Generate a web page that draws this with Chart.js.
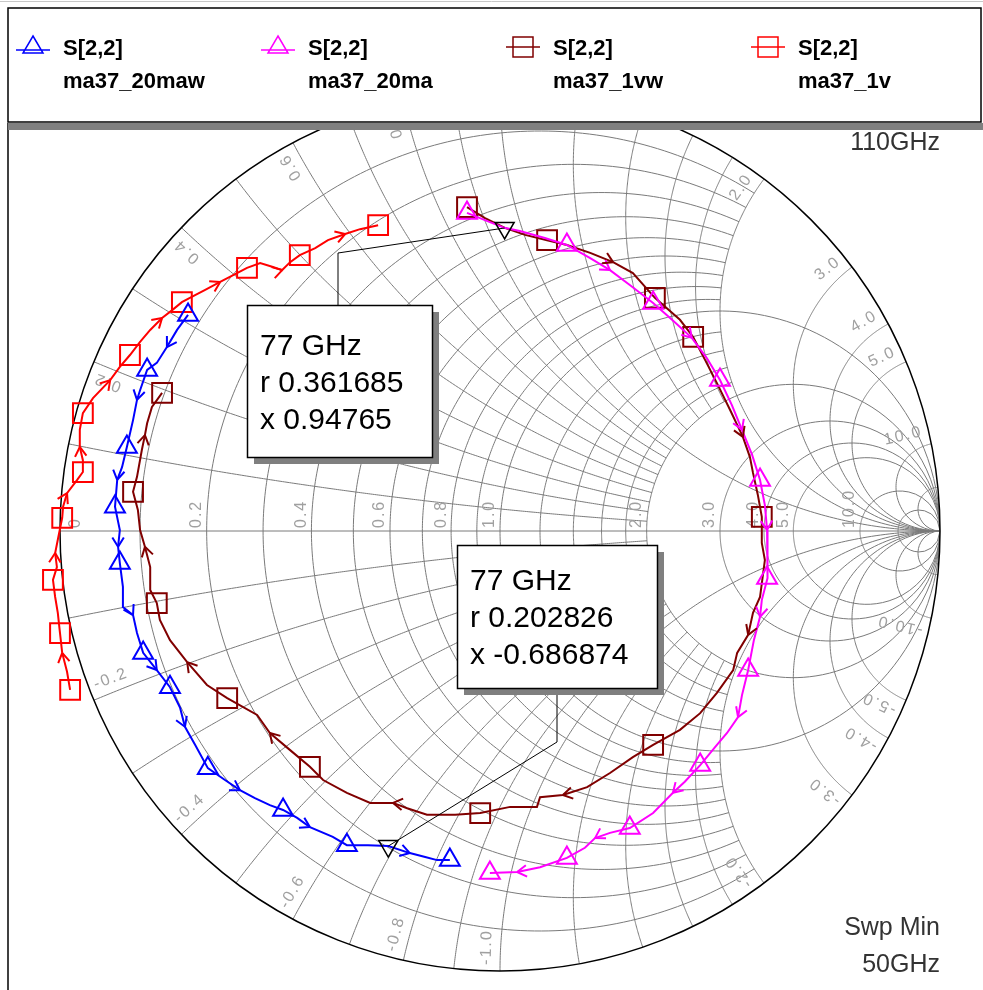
<!DOCTYPE html>
<html>
<head>
<meta charset="utf-8">
<script src="https://cdn.jsdelivr.net/npm/chart.js@4/dist/chart.umd.min.js"></script>
<style>
  html, body { margin: 0; padding: 0; background: #fff; overflow: hidden; }
  #wrap { width: 983px; height: 990px; position: relative; }
  canvas { display: block; }
</style>
</head>
<body>
<div id="wrap"><canvas id="smith" width="983" height="990"></canvas></div>
<script>
// ---- S[2,2] sweeps, 50 GHz .. 110 GHz, reflection coefficient (real / imaginary) ----
const paramName = 'S[2,2]';
const traceNames = ['ma37_20maw', 'ma37_20ma', 'ma37_1vw', 'ma37_1v'];

const re_20maw = [-0.709,-0.734,-0.757,-0.780,-0.802,-0.818,-0.825,-0.834,-0.848,-0.859,-0.870,-0.875,-0.864,-0.868,-0.864,-0.857,-0.857,-0.834,-0.825,-0.811,-0.780,-0.750,-0.727,-0.716,-0.693,-0.664,-0.625,-0.591,-0.557,-0.523,-0.493,-0.461,-0.432,-0.380,-0.348,-0.300,-0.254,-0.205,-0.170,-0.143,-0.114];
const im_20maw = [0.491,0.457,0.418,0.382,0.366,0.320,0.298,0.252,0.191,0.145,0.116,0.055,0.002,-0.036,-0.073,-0.127,-0.173,-0.191,-0.232,-0.277,-0.316,-0.355,-0.402,-0.445,-0.486,-0.539,-0.566,-0.589,-0.607,-0.623,-0.634,-0.652,-0.673,-0.695,-0.714,-0.714,-0.716,-0.732,-0.741,-0.748,-0.748];

const re_20ma = [-0.075,-0.023,0.010,0.045,0.102,0.152,0.205,0.250,0.295,0.348,0.391,0.436,0.470,0.500,0.527,0.550,0.573,0.591,0.602,0.607,0.609,0.607,0.595,0.591,0.577,0.564,0.550,0.541,0.516,0.493,0.455,0.420,0.393,0.348,0.295,0.250,0.216,0.193,0.152,0.091,0.039,-0.023];
const im_20ma = [0.723,0.702,0.689,0.682,0.666,0.650,0.620,0.593,0.559,0.518,0.480,0.439,0.393,0.343,0.286,0.230,0.173,0.116,0.059,0.002,-0.055,-0.107,-0.157,-0.195,-0.248,-0.316,-0.373,-0.423,-0.459,-0.486,-0.532,-0.570,-0.595,-0.641,-0.675,-0.686,-0.698,-0.720,-0.743,-0.764,-0.775,-0.777];

const re_1vw = [-0.075,-0.034,0.011,0.057,0.107,0.152,0.205,0.257,0.302,0.352,0.409,0.439,0.466,0.493,0.523,0.552,0.568,0.575,0.586,0.595,0.595,0.602,0.591,0.575,0.564,0.539,0.530,0.493,0.455,0.409,0.348,0.302,0.250,0.198,0.143,0.091,0.084,0.023,-0.045,-0.102,-0.166,-0.211,-0.243,-0.295,-0.348,-0.402,-0.432,-0.477,-0.523,-0.552,-0.620,-0.666,-0.711,-0.750,-0.773,-0.780,-0.795,-0.795,-0.807,-0.818,-0.823,-0.834,-0.825,-0.814,-0.807,-0.802,-0.791,-0.768];
const im_1vw = [0.736,0.711,0.689,0.673,0.661,0.650,0.632,0.611,0.586,0.530,0.480,0.441,0.389,0.336,0.275,0.214,0.168,0.132,0.082,0.032,-0.027,-0.066,-0.150,-0.186,-0.236,-0.277,-0.316,-0.368,-0.414,-0.452,-0.486,-0.514,-0.550,-0.582,-0.600,-0.605,-0.627,-0.627,-0.641,-0.645,-0.645,-0.630,-0.618,-0.618,-0.595,-0.566,-0.536,-0.498,-0.459,-0.418,-0.380,-0.350,-0.298,-0.248,-0.202,-0.164,-0.134,-0.082,-0.036,0.002,0.048,0.089,0.123,0.184,0.218,0.245,0.282,0.314];

const re_1v = [-0.977,-0.984,-0.995,-1.000,-1.005,-1.011,-1.016,-1.007,-1.011,-1.005,-0.995,-0.993,-0.984,-0.961,-0.948,-0.948,-0.955,-0.955,-0.948,-0.925,-0.886,-0.864,-0.841,-0.818,-0.795,-0.768,-0.745,-0.723,-0.693,-0.670,-0.636,-0.602,-0.575,-0.545,-0.516,-0.495,-0.477,-0.455,-0.420,-0.391,-0.352,-0.318,-0.277];
const im_1v = [-0.361,-0.320,-0.277,-0.232,-0.186,-0.150,-0.111,-0.082,-0.050,-0.020,0.030,0.055,0.086,0.116,0.134,0.161,0.191,0.230,0.268,0.302,0.343,0.373,0.400,0.430,0.457,0.484,0.502,0.520,0.536,0.548,0.566,0.584,0.598,0.609,0.600,0.593,0.611,0.627,0.643,0.661,0.675,0.686,0.695];

// sweep points carrying a trace marker symbol
const symIdx_20maw = [0,4,8,11,14,19,21,25,30,34,40];
const symIdx_20ma  = [0,5,9,13,17,21,25,30,34,38,41];
const symIdx_1vw   = [0,4,9,11,19,30,38,46,50,55,61,67];
const symIdx_1v    = [0,3,6,10,14,18,22,27,32,37,42];

// sweep points carrying a direction arrow
const arrIdx_20maw = [2,6,10,13,17,20,23,27,32,37];
const arrIdx_20ma  = [7,11,15,19,23,27,32,36,40];
const arrIdx_1vw   = [7,15,24,34,42,48,52,58,64];
const arrIdx_1v    = [2,8,12,16,20,25,30,35,40];

// marker readouts (normalised impedance)
const mkFreq = ['77 GHz', '77 GHz'];
const mkR = [0.361685, 0.202826];
const mkX = [0.94765, -0.686874];

// sweep range
const sweepStop = '110GHz';
const sweepStart = '50GHz';

// ---- Smith grid: constant-r circles and constant-x arcs with their extent ----
const gridR      = [0.1,0.2,0.3,0.4,0.5,0.6,0.7,0.8,0.9,1.0,1.2,1.4,1.6,1.8,2.0,3.0,4.0,5.0,10.0,20.0];
const gridRXmax  = [2,2,2,2,2,2,2,2,2,Infinity,2,2,2,2,Infinity,Infinity,Infinity,Infinity,Infinity,Infinity];
const gridX      = [0.1,0.2,0.3,0.4,0.5,0.6,0.7,0.8,0.9,1.0,1.2,1.4,1.6,1.8,2.0,3.0,4.0,5.0,10.0,20.0];
const gridXRmax  = [2,2,2,2,2,2,2,2,2,Infinity,2,2,2,2,Infinity,Infinity,Infinity,Infinity,Infinity,Infinity];
const rLabels = [0, 0.2, 0.4, 0.6, 0.8, 1.0, 2.0, 3.0, 4.0, 5.0, 10.0];
const xLabels = [0.2, 0.4, 0.6, 0.8, 1.0, 2.0, 3.0, 4.0, 5.0, 10.0];

// ---- styles ----
const colors = { '20maw': '#0000ff', '20ma': '#ff00ff', '1vw': '#800000', '1v': '#ff0000' };

function gamma(r, x) {
  const d = (r + 1) * (r + 1) + x * x;
  return [(r * r + x * x - 1) / d, 2 * x / d];
}
function toPts(re, im) { return re.map((v, i) => ({ x: v, y: im[i] })); }
function symRadius(idx, rad) { return ctx => idx.includes(ctx.dataIndex) ? rad : 0; }

const traces = [
  { key: '20ma',  re: re_20ma,  im: im_20ma,  sym: symIdx_20ma,  arr: arrIdx_20ma,  style: 'triangle', name: traceNames[1] },
  { key: '20maw', re: re_20maw, im: im_20maw, sym: symIdx_20maw, arr: arrIdx_20maw, style: 'triangle', name: traceNames[0] },
  { key: '1v',    re: re_1v,    im: im_1v,    sym: symIdx_1v,    arr: arrIdx_1v,    style: 'rect',     name: traceNames[3] },
  { key: '1vw',   re: re_1vw,   im: im_1vw,   sym: symIdx_1vw,   arr: arrIdx_1vw,   style: 'rect',     name: traceNames[2] }
];

const markerPts = mkR.map((r, i) => { const g = gamma(r, mkX[i]); return { x: g[0], y: g[1] }; });

const datasets = [{
  label: 'markers',
  data: markerPts,
  showLine: false,
  pointStyle: 'triangle',
  rotation: 180,
  pointRadius: 11,
  pointBorderColor: '#000',
  pointBackgroundColor: 'rgba(0,0,0,0)',
  pointBorderWidth: 1.5,
  clip: false
}].concat(traces.map(t => ({
  label: paramName + ' ' + t.name,
  data: toPts(t.re, t.im),
  showLine: true,
  tension: 0,
  borderColor: colors[t.key],
  borderWidth: 2,
  pointStyle: t.style,
  pointRadius: symRadius(t.sym, t.style === 'rect' ? 14 : 11.5),
  pointBorderColor: colors[t.key],
  pointBackgroundColor: 'rgba(0,0,0,0)',
  pointBorderWidth: 2,
  clip: false
})));

// annotation boxes (pixel layout) and their leader elbows
const boxes = [
  { l: 247, t: 305, w: 185, h: 152, tx: 260, ty: 347, elbow: [338, 253], from: [338, 305] },
  { l: 457, t: 545, w: 200, h: 143, tx: 470, ty: 582, elbow: [557, 742], from: [557, 688] }
];

function px(chart, g) { return [chart.scales.x.getPixelForValue(g[0]), chart.scales.y.getPixelForValue(g[1])]; }

const smithGrid = {
  id: 'smithGrid',
  beforeDatasetsDraw(chart) {
    const c = chart.ctx;
    const [cx, cy] = px(chart, [0, 0]);
    const R = chart.scales.x.getPixelForValue(1) - cx;
    c.save();
    c.beginPath();
    c.rect(0, 130, chart.width, chart.height - 130);
    c.clip();
    c.save();
    c.beginPath();
    c.arc(cx, cy, R, 0, Math.PI * 2);
    c.clip();
    c.strokeStyle = '#7a7a7a';
    c.lineWidth = 1;
    const N = 260;
    gridR.forEach((r, k) => {
      const lim = gridRXmax[k] === Infinity ? Math.PI / 2 - 1e-4 : Math.atan(gridRXmax[k]);
      c.beginPath();
      for (let i = 0; i <= N; i++) {
        const phi = -lim + 2 * lim * i / N;
        const p = px(chart, gamma(r, Math.tan(phi)));
        i ? c.lineTo(p[0], p[1]) : c.moveTo(p[0], p[1]);
      }
      c.stroke();
    });
    gridX.forEach((x, k) => {
      const lim = gridXRmax[k] === Infinity ? Math.PI / 2 - 1e-4 : Math.atan(gridXRmax[k]);
      [x, -x].forEach(xv => {
        c.beginPath();
        for (let i = 0; i <= N; i++) {
          const p = px(chart, gamma(Math.tan(lim * i / N), xv));
          i ? c.lineTo(p[0], p[1]) : c.moveTo(p[0], p[1]);
        }
        c.stroke();
      });
    });
    // real axis
    c.beginPath();
    c.moveTo(cx - R, cy); c.lineTo(cx + R, cy);
    c.stroke();
    c.restore();
    // outer rim
    c.strokeStyle = '#000';
    c.lineWidth = 1.5;
    c.beginPath();
    c.arc(cx, cy, R, 0, Math.PI * 2);
    c.stroke();
    // labels
    c.fillStyle = '#a0a0a0';
    c.font = '16px "Liberation Sans", Arial, sans-serif';
    c.letterSpacing = '2px';
    rLabels.forEach(r => {
      const g = gamma(r, 0);
      const p = px(chart, g);
      const txt = r === 0 ? '0' : r.toFixed(1);
      c.save();
      if (r === 0) {
        c.translate(p[0] + 8, cy - 3);
        c.rotate(-Math.PI / 2);
        c.textAlign = 'left'; c.textBaseline = 'top';
      } else {
        c.translate(p[0] - 2, cy - 3);
        c.rotate(-Math.PI / 2);
        c.textAlign = 'left'; c.textBaseline = 'bottom';
      }
      c.fillText(txt, 0, 0);
      c.restore();
    });
    xLabels.forEach(x => {
      [x, -x].forEach(xv => {
        const g = gamma(0, xv);
        const th = Math.atan2(g[1], g[0]) + Math.sign(xv) * 0.032;
        const txt = xv.toFixed(1);
        const w = c.measureText(txt).width;
        const rr = R - w / 2 - 6;
        const lx = cx + rr * Math.cos(th), ly = cy - rr * Math.sin(th);
        c.save();
        c.translate(lx, ly);
        c.rotate(xv > 0 ? -th : -th + Math.PI);
        c.textAlign = 'center'; c.textBaseline = 'middle';
        c.fillText(txt, 0, 0);
        c.restore();
      });
    });
    c.restore();
  },
  afterDatasetsDraw(chart) {
    const c = chart.ctx;
    c.save();
    traces.forEach(t => {
      c.strokeStyle = colors[t.key];
      c.lineWidth = 2;
      t.arr.forEach(i => {
        const p = px(chart, [t.re[i], t.im[i]]);
        const a = px(chart, [t.re[i - 1], t.im[i - 1]]);
        const b = px(chart, [t.re[Math.min(i + 1, t.re.length - 1)], t.im[Math.min(i + 1, t.re.length - 1)]]);
        const ang = Math.atan2(b[1] - a[1], b[0] - a[0]);
        c.beginPath();
        [0.55, -0.55].forEach(s => {
          c.moveTo(p[0], p[1]);
          c.lineTo(p[0] - 11 * Math.cos(ang + s), p[1] - 11 * Math.sin(ang + s));
        });
        c.stroke();
      });
    });
    c.restore();
  },
  afterDraw(chart) {
    const c = chart.ctx;
    c.save();
    // marker readout boxes
    markerPts.forEach((m, i) => {
      const b = boxes[i];
      const mp = px(chart, [m.x, m.y]);
      c.strokeStyle = '#000';
      c.lineWidth = 1;
      c.beginPath();
      c.moveTo(b.from[0], b.from[1]);
      c.lineTo(b.elbow[0], b.elbow[1]);
      c.lineTo(mp[0], mp[1]);
      c.stroke();
      c.fillStyle = '#7f7f7f';
      c.fillRect(b.l + 7, b.t + 7, b.w, b.h);
      c.fillStyle = '#fff';
      c.fillRect(b.l, b.t, b.w, b.h);
      c.lineWidth = 1.5;
      c.strokeRect(b.l + 0.5, b.t + 0.5, b.w, b.h);
      c.fillStyle = '#000';
      c.font = '30px "Liberation Sans", Arial, sans-serif';
      c.textAlign = 'left'; c.textBaseline = 'middle';
      const lines = [mkFreq[i], 'r ' + mkR[i], 'x ' + mkX[i]];
      lines.forEach((s, k) => c.fillText(s, b.tx, b.ty + k * 37));
    });
    // sweep range notes
    c.fillStyle = '#333';
    c.font = '25px "Liberation Sans", Arial, sans-serif';
    c.textAlign = 'right'; c.textBaseline = 'middle';
    c.fillText(sweepStop, 940, 143);
    c.fillText('Swp Min', 940, 928);
    c.fillText(sweepStart, 940, 965);
    // frame
    c.strokeStyle = '#000';
    c.lineWidth = 1.5;
    c.beginPath();
    c.moveTo(8, 122); c.lineTo(8, 990);
    c.stroke();
    // legend panel
    c.fillStyle = '#fff';
    c.fillRect(0, 0, chart.width, 123);
    c.strokeStyle = '#c8c8c8';
    c.lineWidth = 1;
    c.beginPath(); c.moveTo(0, 1.5); c.lineTo(chart.width, 1.5); c.stroke();
    c.strokeStyle = '#000';
    c.lineWidth = 1.5;
    c.strokeRect(8, 8, chart.width - 10, 114);
    c.fillStyle = '#808080';
    c.fillRect(8, 123, chart.width - 8, 7);
    const legendItems = [
      { key: '20maw', name: traceNames[0], style: 'triangle' },
      { key: '20ma',  name: traceNames[1], style: 'triangle' },
      { key: '1vw',   name: traceNames[2], style: 'rect' },
      { key: '1v',    name: traceNames[3], style: 'rect' }
    ];
    legendItems.forEach((it, k) => {
      const x0 = 16 + k * 245;
      const col = colors[it.key];
      c.strokeStyle = col;
      c.lineWidth = 1.5;
      c.beginPath();
      if (it.style === 'triangle') {
        c.moveTo(x0, 50); c.lineTo(x0 + 34, 50);
        c.moveTo(x0 + 17, 36); c.lineTo(x0 + 27, 53); c.lineTo(x0 + 7, 53); c.closePath();
      } else {
        c.moveTo(x0, 47); c.lineTo(x0 + 34, 47);
        c.rect(x0 + 7, 37, 20, 20);
      }
      c.stroke();
      c.fillStyle = '#000';
      c.font = 'bold 22px "Liberation Sans", Arial, sans-serif';
      c.textAlign = 'left'; c.textBaseline = 'alphabetic';
      c.fillText(paramName, x0 + 47, 55);
      c.fillText(it.name, x0 + 47, 88);
    });
    c.restore();
  }
};

new Chart(document.getElementById('smith'), {
  type: 'scatter',
  data: { datasets },
  options: {
    responsive: false,
    animation: false,
    devicePixelRatio: 1,
    events: [],
    layout: { padding: { left: 60, right: 43, top: 91, bottom: 19 } },
    scales: {
      x: { type: 'linear', min: -1, max: 1, display: false },
      y: { type: 'linear', min: -1, max: 1, display: false }
    },
    plugins: { legend: { display: false }, tooltip: { enabled: false } }
  },
  plugins: [smithGrid]
});
</script>
</body>
</html>
